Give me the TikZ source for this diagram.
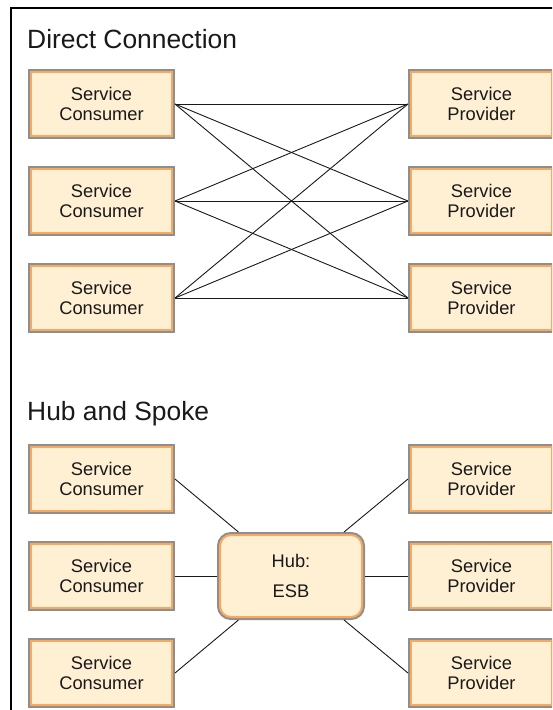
\documentclass[tikz,border=0pt]{standalone}
\usepackage{fontspec}
\setmainfont{Liberation Sans}
\usetikzlibrary{positioning}
\definecolor{boxfill}{HTML}{FFF0D4}
\definecolor{boxedge}{HTML}{F6A95F}
\definecolor{boxrim}{HTML}{8E8E8E}
\tikzset{
	svcbox/.style={rectangle, fill=boxfill, draw=boxedge, line width=2pt,
		preaction={draw=boxrim, line width=6pt},
		minimum width=141pt, minimum height=64pt, inner sep=0pt, outer sep=3pt,
		align=center, text=black!90, font=\fontsize{18.3}{20.5}\selectfont},
	hubbox/.style={svcbox, rounded corners=11pt, minimum width=142pt,
		minimum height=82pt, font=\fontsize{18.3}{30}\selectfont},
	heading/.style={anchor=base west, inner sep=0pt, text=black!90,
		font=\fontsize{26.4}{30}\selectfont},
	link/.style={draw=black!90, line width=0.9pt}
}
\begin{document}
\begin{tikzpicture}[x=1pt, y=-1pt]
				\path[use as bounding box, clip] (0,0) rectangle (552,710);
				\draw[line width=1.3pt] (11,730) -- (11,8) -- (570,8);
				% direct connection
				\node[heading] (dctitle) at (27,48) {Direct Connection};
				\node[svcbox] (dc1) at (101.5,104) {Service\\Consumer};
				\node[svcbox, below=27pt of dc1] (dc2) {Service\\Consumer};
				\node[svcbox, below=27pt of dc2] (dc3) {Service\\Consumer};
				\node[svcbox, right=233pt of dc1] (dp1) {Service\\Provider};
				\node[svcbox, right=233pt of dc2] (dp2) {Service\\Provider};
				\node[svcbox, right=233pt of dc3] (dp3) {Service\\Provider};
				\draw[link] (dc1.east) -- (dp1.west);
				\draw[link] (dc1.east) -- (dp2.west);
				\draw[link] (dc1.east) -- (dp3.west);
				\draw[link] (dc2.east) -- (dp1.west);
				\draw[link] (dc2.east) -- (dp2.west);
				\draw[link] (dc2.east) -- (dp3.west);
				\draw[link] (dc3.east) -- (dp1.west);
				\draw[link] (dc3.east) -- (dp2.west);
				\draw[link] (dc3.east) -- (dp3.west);
				% hub and spoke
				\node[heading] (hstitle) at (27,420) {Hub and Spoke};
				\node[svcbox] (hc1) at (101.5,479) {Service\\Consumer};
				\node[svcbox, below=27pt of hc1] (hc2) {Service\\Consumer};
				\node[svcbox, below=27pt of hc2] (hc3) {Service\\Consumer};
				\node[svcbox, right=233pt of hc1] (hp1) {Service\\Provider};
				\node[svcbox, right=233pt of hc2] (hp2) {Service\\Provider};
				\node[svcbox, right=233pt of hc3] (hp3) {Service\\Provider};
				\node[hubbox] (hub) at (291,576) {Hub:\\ESB};
				\draw[link] (hc1.east) -- (hub);
				\draw[link] (hc2.east) -- (hub);
				\draw[link] (hc3.east) -- (hub);
				\draw[link] (hp1.west) -- (hub);
				\draw[link] (hp2.west) -- (hub);
				\draw[link] (hp3.west) -- (hub);
\end{tikzpicture}
\end{document}
